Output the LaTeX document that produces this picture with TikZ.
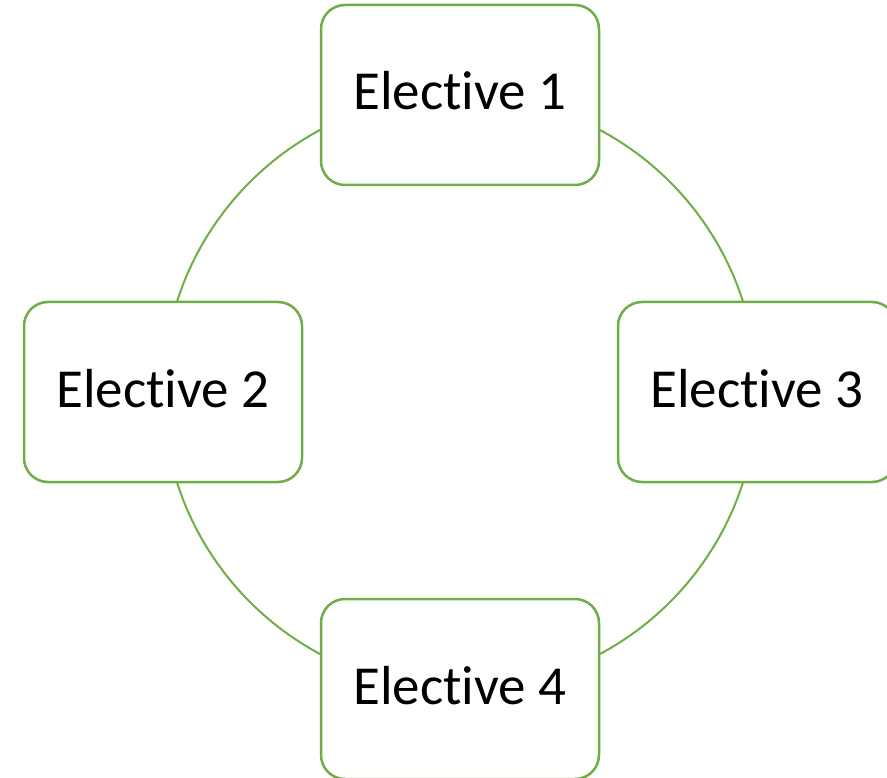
\documentclass[tikz,border=0pt]{standalone}
\usepackage{fontspec}
\setmainfont{Carlito}[Ligatures={NoCommon,NoRequired,NoContextual}]
\definecolor{leafgreen}{HTML}{70AD47}

\begin{document}
\begin{tikzpicture}[x=1pt, y=-1pt,
  elective/.style = {draw = leafgreen, line width = 2.5pt, fill = white,
    rounded corners = 24pt, minimum width = 278pt, minimum height = 180pt,
    text height = 30pt, text depth = 0pt, inner sep = 0pt,
    font = \fontsize{55}{60}\selectfont}]
  \useasboundingbox (0,0) rectangle (887,778);
  \clip (0,0) rectangle (887,778);

  \coordinate (hub) at (460,392);
  \draw [leafgreen, line width = 2pt] (hub) circle [radius = 297];

  \node [elective] (e1) at (460,95) {Elective 1};
  \node [elective] (e2) at (163,392) {Elective 2};
  \node [elective] (e3) at (757,392) {Elective 3};
  \node [elective] (e4) at (460,689) {Elective 4};
\end{tikzpicture}
\end{document}
